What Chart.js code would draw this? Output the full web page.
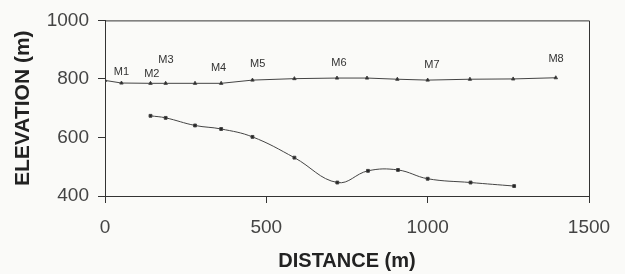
<!DOCTYPE html>
<html>
<head>
<meta charset="utf-8">
<script src="https://cdn.jsdelivr.net/npm/chart.js@4/dist/chart.umd.min.js"></script>
<style>
  html, body { margin: 0; padding: 0; background: #fafaf8; }
  #wrap { width: 625px; height: 274px; }
</style>
</head>
<body>
<div id="wrap"><canvas id="profileChart"></canvas></div>
<script>
// surface profile (upper) and bed profile (lower)
const surfaceDist = [0, 51, 141, 188, 279, 360, 457, 587, 719, 812, 906, 1000, 1131, 1265, 1397];
const surfaceElev = [795, 786, 785, 785, 785, 785, 796, 801, 803, 803, 799, 796, 799, 800, 804];
const bedDist = [141, 188, 279, 360, 457, 587, 720, 815, 908, 1000, 1133, 1268];
const bedElev = [674, 667, 641, 629, 602, 531, 446, 486, 489, 459, 446, 434];

// marker labels M1..M8
const markerNames = ['M1', 'M2', 'M3', 'M4', 'M5', 'M6', 'M7', 'M8'];
const markerX = [51, 145, 189, 352, 473, 725, 1013, 1398];
const markerY = [825, 818, 866, 837, 851, 856, 847, 869];

const xTicks = [0, 500, 1000, 1500];
const yTicks = [400, 600, 800, 1000];

const toPoints = (xs, ys) => xs.map((x, i) => ({ x: x, y: ys[i] }));

const boxAndLabels = {
    id: 'boxAndLabels',
    afterDatasetsDraw(chart) {
        const ctx = chart.ctx;
        const area = chart.chartArea;
        const sx = chart.scales.x, sy = chart.scales.y;
        ctx.save();
        ctx.strokeStyle = '#333';
        ctx.lineWidth = 1;
        ctx.beginPath();
        ctx.moveTo(area.left, area.top + 0.5);
        ctx.lineTo(area.right + 0.5, area.top + 0.5);
        ctx.lineTo(area.right + 0.5, area.bottom);
        ctx.stroke();
        ctx.fillStyle = '#333';
        ctx.font = '11px "Liberation Sans", Arial, sans-serif';
        ctx.textAlign = 'center';
        ctx.textBaseline = 'middle';
        markerNames.forEach((name, i) => {
            ctx.fillText(name, sx.getPixelForValue(markerX[i]), sy.getPixelForValue(markerY[i]));
        });
        ctx.restore();
    }
};

new Chart(document.getElementById('profileChart'), {
    type: 'scatter',
    data: {
        datasets: [{
            data: toPoints(surfaceDist, surfaceElev),
            showLine: true,
            borderColor: '#444',
            borderWidth: 1,
            backgroundColor: '#222',
            pointStyle: 'triangle',
            pointRadius: 2,
            tension: 0
        }, {
            data: toPoints(bedDist, bedElev),
            showLine: true,
            borderColor: '#444',
            borderWidth: 1,
            backgroundColor: '#222',
            pointStyle: 'rect',
            pointRadius: 2,
            tension: 0.4
        }]
    },
    options: {
        responsive: true,
        maintainAspectRatio: false,
        animation: false,
        layout: { padding: { top: 20, right: 36, left: 0, bottom: 0 } },
        plugins: { legend: { display: false }, tooltip: { enabled: false } },
        scales: {
            x: {
                type: 'linear',
                min: 0, max: 1500,
                afterBuildTicks: s => { s.ticks = xTicks.map(v => ({ value: v })); },
                afterFit: s => { s.height = 78; },
                border: { color: '#333', width: 1 },
                grid: { drawOnChartArea: false, color: '#333', tickLength: 7 },
                ticks: {
                    color: '#444', padding: 13,
                    font: { family: 'Liberation Sans', size: 19 },
                    callback: v => String(v)
                },
                title: {
                    display: true, text: 'DISTANCE (m)', color: '#222',
                    padding: { top: 0, bottom: 1 },
                    font: { family: 'Liberation Sans', size: 20, weight: 'bold' }
                }
            },
            y: {
                min: 400, max: 1000,
                afterBuildTicks: s => { s.ticks = yTicks.map(v => ({ value: v })); },
                afterFit: s => { s.width = 105; },
                border: { color: '#333', width: 1 },
                grid: { drawOnChartArea: false, color: '#333', tickLength: 7 },
                ticks: {
                    color: '#444', padding: 9,
                    font: { family: 'Liberation Sans', size: 19 },
                    callback: v => String(v)
                },
                title: {
                    display: true, text: 'ELEVATION (m)', color: '#222',
                    padding: { top: 11, bottom: 0 },
                    font: { family: 'Liberation Sans', size: 21, weight: 'bold' }
                }
            }
        }
    },
    plugins: [boxAndLabels]
});
</script>
</body>
</html>
